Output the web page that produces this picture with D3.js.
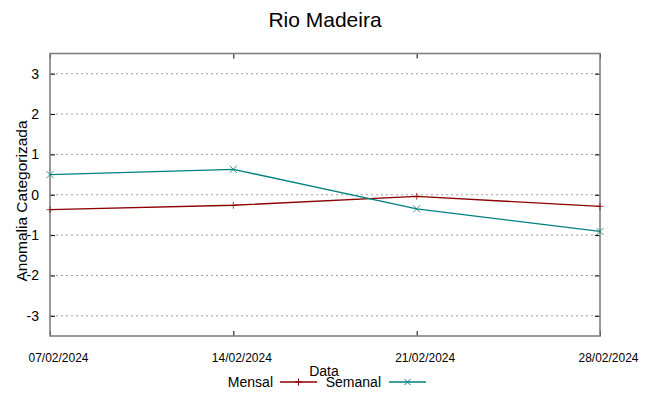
<!DOCTYPE html>
<html><head><meta charset="utf-8">
<script src="https://cdn.jsdelivr.net/npm/d3@7"></script>
<style>body{margin:0;background:#fff}svg{display:block;font-family:"Liberation Sans",Arial,sans-serif}</style>
</head><body>
<script>
const dates = ["07/02/2024","14/02/2024","21/02/2024","28/02/2024"];
const mensal = [-0.37, -0.26, -0.04, -0.29];
const semanal = [0.50, 0.63, -0.35, -0.91];
const yTicks = [-3,-2,-1,0,1,2,3];
const seriesNames = ["Mensal","Semanal"];
const colors = ["#8b0000","#008080"];

const W=649,H=396;
const svg=d3.select("body").append("svg").attr("width",W).attr("height",H);
const parse=d3.timeParse("%d/%m/%Y");
const xd=dates.map(parse);
const x=d3.scaleTime().domain([xd[0],xd[xd.length-1]]).range([50,600]);
const y=d3.scaleLinear().domain([-3.5,3.5]).range([336,53.5]);

svg.append("text").attr("x",325).attr("y",27).attr("text-anchor","middle")
  .attr("font-size",21).attr("fill","#000").text("Rio Madeira");

// grid
svg.append("g").selectAll("line").data(yTicks).join("line")
  .attr("x1",51).attr("x2",599).attr("y1",d=>y(d)).attr("y2",d=>y(d))
  .attr("stroke","#a0a0a0").attr("stroke-width",1).attr("stroke-dasharray","2,3");

// axes
const yAxisL=d3.axisLeft(y).tickValues(yTicks).tickSize(-5).tickPadding(11).tickFormat(d=>String(d));
const gl=svg.append("g").attr("transform","translate(50,0)").call(yAxisL);
gl.select(".domain").remove();
gl.selectAll("text").attr("font-size",14).attr("font-family","Liberation Sans, Arial, sans-serif").attr("fill","#000");
gl.selectAll("line").attr("stroke","#000");
const yAxisR=d3.axisRight(y).tickValues(yTicks).tickSize(-5).tickFormat("");
const gr=svg.append("g").attr("transform","translate(600,0)").call(yAxisR);
gr.select(".domain").remove();
gr.selectAll("line").attr("stroke","#000");

const xAxisB=d3.axisBottom(x).tickValues(xd).tickSize(-5).tickPadding(0).tickFormat(d3.timeFormat("%d/%m/%Y"));
const gb=svg.append("g").attr("transform","translate(0,336)").call(xAxisB);
gb.select(".domain").remove();
gb.selectAll("line").attr("stroke","#000");
gb.selectAll("text").attr("font-size",13).attr("font-family","Liberation Sans Narrow, Arial Narrow, sans-serif")
  .attr("fill","#000").attr("dy",0).attr("y",26).attr("x",8).attr("textLength",60).attr("lengthAdjust","spacingAndGlyphs");
const xAxisT=d3.axisTop(x).tickValues(xd).tickSize(-5).tickFormat("");
const gt=svg.append("g").attr("transform","translate(0,53.5)").call(xAxisT);
gt.select(".domain").remove();
gt.selectAll("line").attr("stroke","#000");

// border
svg.append("rect").attr("x",50).attr("y",53.5).attr("width",550).attr("height",282.5)
  .attr("fill","none").attr("stroke","#808080").attr("stroke-width",1.6);

// y label
svg.append("text").attr("transform","translate(27,201) rotate(-90)").attr("text-anchor","middle")
  .attr("font-size",15.5).attr("fill","#000").text("Anomalia Categorizada");
svg.append("text").attr("x",324).attr("y",376).attr("text-anchor","middle")
  .attr("font-size",14).attr("fill","#000").text("Data");

const line=d3.line().x((d,i)=>x(xd[i])).y(d=>y(d));
const all=[mensal,semanal];
all.forEach((s,k)=>{
  svg.append("path").datum(s).attr("d",line).attr("fill","none").attr("stroke",colors[k]).attr("stroke-width",1.3);
  const g=svg.append("g");
  s.forEach((v,i)=>{
    const cx=x(xd[i]),cy=y(v),r=3.5;
    if(k===0){
      g.append("path").attr("d",`M${cx-r},${cy}H${cx+r}M${cx},${cy-r}V${cy+r}`).attr("stroke",colors[k]).attr("stroke-width",1.2).attr("opacity",0.6);
    } else {
      g.append("path").attr("d",`M${cx-r},${cy-r}L${cx+r},${cy+r}M${cx-r},${cy+r}L${cx+r},${cy-r}`).attr("stroke",colors[k]).attr("stroke-width",1).attr("opacity",0.8);
    }
  });
});

// legend
const leg=[{tx:273,lx1:280,lx2:317},{tx:381,lx1:389,lx2:426}];
seriesNames.forEach((n,k)=>{
  const L=leg[k],ly=382;
  svg.append("text").attr("x",L.tx).attr("y",387).attr("text-anchor","end").attr("font-size",14).attr("fill","#000").text(n);
  svg.append("line").attr("x1",L.lx1).attr("x2",L.lx2).attr("y1",ly).attr("y2",ly).attr("stroke",colors[k]).attr("stroke-width",1.3);
  const cx=(L.lx1+L.lx2)/2,r=3.5;
  if(k===0) svg.append("path").attr("d",`M${cx-r},${ly}H${cx+r}M${cx},${ly-r}V${ly+r}`).attr("stroke",colors[k]).attr("stroke-width",1.1);
  else svg.append("path").attr("d",`M${cx-3},${ly-3}L${cx+3},${ly+3}M${cx-3},${ly+3}L${cx+3},${ly-3}`).attr("stroke",colors[k]).attr("stroke-width",1);
});
</script>
</body></html>
